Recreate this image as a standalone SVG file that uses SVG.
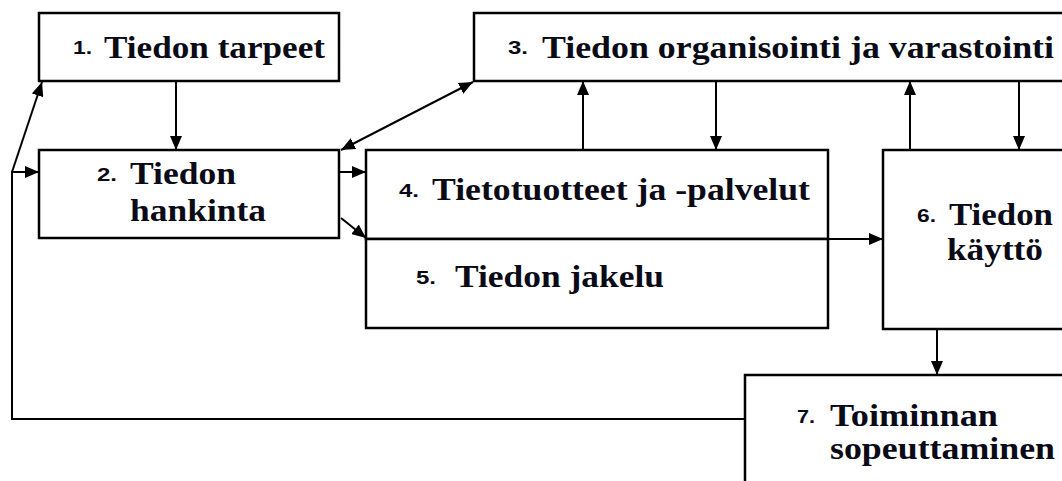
<svg xmlns="http://www.w3.org/2000/svg" width="1062" height="481" viewBox="0 0 1062 481">
<style>
.box{fill:#fff;stroke:#000;stroke-width:2.5}
.ln{fill:none;stroke:#000;stroke-width:2}
.t{font-family:"Liberation Serif","Times New Roman",serif;font-weight:bold;font-size:31px;fill:#0b0b18}
.n{font-family:"Liberation Sans",Arial,sans-serif;font-weight:bold;font-size:18px;fill:#0b0b18}
</style>
<defs>
<marker id="ah" viewBox="0 0 14 12" refX="14" refY="6" markerWidth="14" markerHeight="12" markerUnits="userSpaceOnUse" orient="auto-start-reverse">
<path d="M0,0 L14,6 L0,12 Z" fill="#000"/>
</marker>
</defs>
<rect width="1062" height="481" fill="#fff"/>
<g id="connectors">
<line class="ln" x1="176" y1="81" x2="176" y2="150" marker-end="url(#ah)"/>
<line class="ln" x1="341" y1="150" x2="473" y2="82" marker-start="url(#ah)" marker-end="url(#ah)"/>
<line class="ln" x1="339" y1="172" x2="366" y2="172" marker-end="url(#ah)"/>
<line class="ln" x1="341" y1="218" x2="366" y2="238" marker-end="url(#ah)"/>
<line class="ln" x1="583" y1="150" x2="583" y2="81" marker-end="url(#ah)"/>
<line class="ln" x1="716" y1="81" x2="716" y2="150" marker-end="url(#ah)"/>
<line class="ln" x1="910" y1="150" x2="910" y2="81" marker-end="url(#ah)"/>
<line class="ln" x1="1019" y1="81" x2="1019" y2="150" marker-end="url(#ah)"/>
<line class="ln" x1="828" y1="239" x2="883" y2="239" marker-end="url(#ah)"/>
<line class="ln" x1="937" y1="329" x2="937" y2="375" marker-end="url(#ah)"/>
<polyline class="ln" points="745,419 12,419 12,172 39,172" marker-end="url(#ah)"/>
<line class="ln" x1="12" y1="172" x2="42" y2="82" marker-end="url(#ah)"/>
</g>
<g id="node1">
<rect class="box" x="39" y="13" width="300" height="68"/>
<text class="n" x="73" y="54" textLength="19" lengthAdjust="spacingAndGlyphs">1.</text>
<text class="t" x="104" y="58" textLength="221" lengthAdjust="spacingAndGlyphs">Tiedon tarpeet</text>
</g>
<g id="node2">
<rect class="box" x="39" y="150" width="300" height="88"/>
<text class="n" x="97" y="181" textLength="20" lengthAdjust="spacingAndGlyphs">2.</text>
<text class="t" x="130" y="184" textLength="106" lengthAdjust="spacingAndGlyphs">Tiedon</text>
<text class="t" x="130" y="221" textLength="136" lengthAdjust="spacingAndGlyphs">hankinta</text>
</g>
<g id="node3">
<rect class="box" x="474" y="13" width="600" height="68"/>
<text class="n" x="508" y="54" textLength="20" lengthAdjust="spacingAndGlyphs">3.</text>
<text class="t" x="542" y="58" textLength="512" lengthAdjust="spacingAndGlyphs">Tiedon organisointi ja varastointi</text>
</g>
<g id="node4">
<rect class="box" x="366" y="150" width="462" height="89"/>
<text class="n" x="399" y="197" textLength="20" lengthAdjust="spacingAndGlyphs">4.</text>
<text class="t" x="432" y="200" textLength="378" lengthAdjust="spacingAndGlyphs">Tietotuotteet ja -palvelut</text>
</g>
<g id="node5">
<rect class="box" x="366" y="239" width="462" height="89"/>
<text class="n" x="416" y="284" textLength="20" lengthAdjust="spacingAndGlyphs">5.</text>
<text class="t" x="455" y="287" textLength="209" lengthAdjust="spacingAndGlyphs">Tiedon jakelu</text>
</g>
<g id="node6">
<rect class="box" x="883" y="150" width="190" height="179"/>
<text class="n" x="917" y="222" textLength="19" lengthAdjust="spacingAndGlyphs">6.</text>
<text class="t" x="949" y="225" textLength="104" lengthAdjust="spacingAndGlyphs">Tiedon</text>
<text class="t" x="947" y="260" textLength="96" lengthAdjust="spacingAndGlyphs">käyttö</text>
</g>
<g id="node7">
<rect class="box" x="745" y="375" width="330" height="120"/>
<text class="n" x="797" y="423" textLength="18" lengthAdjust="spacingAndGlyphs">7.</text>
<text class="t" x="830" y="426" textLength="168" lengthAdjust="spacingAndGlyphs">Toiminnan</text>
<text class="t" x="830" y="459" textLength="225" lengthAdjust="spacingAndGlyphs">sopeuttaminen</text>
</g>
</svg>
